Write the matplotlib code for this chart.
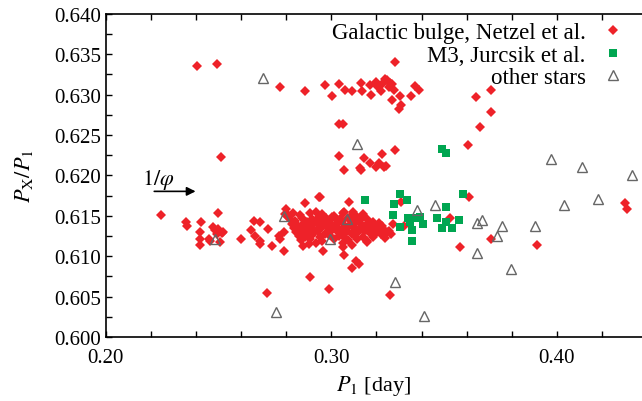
import matplotlib
matplotlib.use("Agg")
import matplotlib.pyplot as plt
from matplotlib.ticker import MultipleLocator, FormatStrFormatter

plt.rcParams['font.family'] = ['Liberation Serif', 'DejaVu Serif']
plt.rcParams['mathtext.fontset'] = 'stix'

# Galactic bulge, Netzel et al.
bulge_p1 = [
    # sparse points
    0.2403, 0.2492, 0.2511, 0.2773, 0.2881, 0.2973, 0.3003, 0.3033, 0.3059, 0.3092,
    0.3033, 0.3052, 0.3036, 0.3055, 0.3126, 0.2944, 0.3284, 0.3132, 0.3136, 0.3170,
    0.3176, 0.3196, 0.3204, 0.3218, 0.3225, 0.3240, 0.3247, 0.3255, 0.3262, 0.3270,
    0.3277, 0.3267, 0.3304, 0.3310, 0.3302, 0.3354, 0.3373, 0.3388, 0.3147, 0.3132,
    0.3170, 0.3196, 0.3212, 0.3225, 0.3233, 0.3244, 0.3284, 0.3707, 0.3640, 0.3710,
    0.3658, 0.3607, 0.3610, 0.4302, 0.4311, 0.3307, 0.3526, 0.3215, 0.3321, 0.3569,
    0.3707, 0.3258, 0.3911, 0.2988, 0.2904, 0.3092, 0.3111, 0.3121, 0.3058, 0.2948,
    0.3077, 0.3097, 0.3055, 0.2881, 0.2874, 0.2962, 0.3050, 0.2244, 0.2356, 0.2358,
    0.2421, 0.2418, 0.2418, 0.2418, 0.2455, 0.2460, 0.2495, 0.2477, 0.2484, 0.2499,
    0.2492, 0.2514, 0.2521, 0.2506, 0.2599, 0.2655, 0.2684, 0.2644, 0.2662, 0.2684,
    0.2684, 0.2717, 0.2736, 0.2769, 0.2773, 0.2791, 0.2800, 0.2796, 0.2805, 0.2788,
    0.2714, 0.3274, 0.3160, 0.3185,
    # dense group
    0.2805, 0.2830, 0.2860, 0.2905, 0.2930, 0.2960, 0.3010, 0.3050, 0.3100, 0.3115,
    0.3140, 0.2815, 0.2840, 0.2870, 0.2890, 0.2915, 0.2945, 0.2975, 0.2990, 0.3020,
    0.3045, 0.3075, 0.3095, 0.3125, 0.3160, 0.3185, 0.3210, 0.2825, 0.2850, 0.2880,
    0.2900, 0.2925, 0.2950, 0.2965, 0.2985, 0.3005, 0.3030, 0.3060, 0.3085, 0.3110,
    0.3135, 0.3150, 0.3175, 0.3200, 0.3225, 0.2835, 0.2860, 0.2875, 0.2895, 0.2910,
    0.2935, 0.2955, 0.2980, 0.3000, 0.3015, 0.3040, 0.3065, 0.3080, 0.3105, 0.3130,
    0.3155, 0.3180, 0.3205, 0.3230, 0.3255, 0.2845, 0.2870, 0.2890, 0.2920, 0.2940,
    0.2970, 0.2995, 0.3025, 0.3050, 0.3070, 0.3090, 0.3120, 0.3145, 0.3170, 0.3195,
    0.3220, 0.3245, 0.3265, 0.2855, 0.2885, 0.2915, 0.2950, 0.2990, 0.3035, 0.3060,
    0.3100, 0.3140, 0.3190, 0.3240, 0.2865, 0.2905, 0.2960, 0.3010, 0.3075, 0.3115,
    0.3160, 0.2900, 0.2930, 0.3050, 0.3090, 0.2945, 0.3002, 0.3038, 0.3082, 0.3128,
]
bulge_ratio = [
    0.6336, 0.6338, 0.6223, 0.6310, 0.6304, 0.6312, 0.6298, 0.6313, 0.6306, 0.6305,
    0.6264, 0.6264, 0.6224, 0.6207, 0.6209, 0.6173, 0.6340, 0.6314, 0.6305, 0.6312,
    0.6300, 0.6316, 0.6311, 0.6305, 0.6313, 0.6320, 0.6318, 0.6309, 0.6314, 0.6313,
    0.6306, 0.6293, 0.6298, 0.6287, 0.6282, 0.6298, 0.6311, 0.6306, 0.6222, 0.6207,
    0.6215, 0.6210, 0.6216, 0.6226, 0.6210, 0.6212, 0.6232, 0.6306, 0.6297, 0.6278,
    0.6260, 0.6238, 0.6173, 0.6166, 0.6158, 0.6167, 0.6147, 0.6139, 0.6138, 0.6112,
    0.6122, 0.6052, 0.6114, 0.6059, 0.6074, 0.6086, 0.6094, 0.6090, 0.6102, 0.6173,
    0.6167, 0.6155, 0.6155, 0.6166, 0.6113, 0.6107, 0.6112, 0.6151, 0.6143, 0.6138,
    0.6143, 0.6130, 0.6122, 0.6114, 0.6122, 0.6119, 0.6154, 0.6136, 0.6132, 0.6134,
    0.6127, 0.6129, 0.6130, 0.6118, 0.6122, 0.6144, 0.6142, 0.6132, 0.6125, 0.6119,
    0.6115, 0.6134, 0.6113, 0.6125, 0.6121, 0.6106, 0.6159, 0.6152, 0.6150, 0.6130,
    0.6054, 0.6140, 0.6118, 0.6124,
    # dense group
    0.6152, 0.6154, 0.6151, 0.6153, 0.6155, 0.6152, 0.6150, 0.6153, 0.6151, 0.6149,
    0.6152, 0.6146, 0.6144, 0.6147, 0.6143, 0.6146, 0.6145, 0.6147, 0.6143, 0.6146,
    0.6144, 0.6147, 0.6143, 0.6145, 0.6146, 0.6143, 0.6141, 0.6140, 0.6138, 0.6141,
    0.6139, 0.6141, 0.6138, 0.6140, 0.6142, 0.6139, 0.6141, 0.6138, 0.6140, 0.6142,
    0.6139, 0.6137, 0.6140, 0.6136, 0.6138, 0.6135, 0.6133, 0.6136, 0.6134, 0.6136,
    0.6133, 0.6135, 0.6136, 0.6134, 0.6136, 0.6133, 0.6135, 0.6137, 0.6134, 0.6136,
    0.6133, 0.6135, 0.6132, 0.6134, 0.6131, 0.6130, 0.6128, 0.6131, 0.6129, 0.6131,
    0.6128, 0.6130, 0.6131, 0.6129, 0.6131, 0.6128, 0.6130, 0.6131, 0.6129, 0.6130,
    0.6128, 0.6130, 0.6127, 0.6125, 0.6124, 0.6126, 0.6124, 0.6126, 0.6125, 0.6123,
    0.6126, 0.6124, 0.6126, 0.6123, 0.6120, 0.6121, 0.6119, 0.6121, 0.6120, 0.6122,
    0.6119, 0.6115, 0.6116, 0.6117, 0.6114, 0.6148, 0.6149, 0.6146, 0.6148, 0.6147,
]

# M3, Jurcsik et al.
m3_p1 = [0.3492, 0.3510, 0.3148, 0.3304, 0.3336, 0.3277, 0.3274, 0.3304, 0.3339, 0.3359,
         0.3359, 0.3391, 0.3406, 0.3507, 0.3470, 0.3492, 0.3510, 0.3536, 0.3566, 0.3584,
         0.3375, 0.3349]
m3_ratio = [0.6233, 0.6228, 0.6170, 0.6177, 0.6170, 0.6165, 0.6151, 0.6136, 0.6147, 0.6133,
            0.6119, 0.6148, 0.6140, 0.6161, 0.6147, 0.6135, 0.6142, 0.6135, 0.6145, 0.6177,
            0.6147, 0.6142]

# other stars
other_p1 = [0.2696, 0.3114, 0.3973, 0.4111, 0.4333, 0.4032, 0.4185, 0.3378, 0.3458, 0.3644,
            0.3670, 0.3759, 0.3736, 0.3644, 0.3799, 0.3904, 0.3284, 0.3410, 0.2484, 0.2791,
            0.2756, 0.2996, 0.3070]
other_ratio = [0.6321, 0.6239, 0.6220, 0.6211, 0.6200, 0.6164, 0.6171, 0.6157, 0.6163, 0.6141,
               0.6145, 0.6138, 0.6125, 0.6104, 0.6084, 0.6138, 0.6068, 0.6026, 0.6122, 0.6150,
               0.6031, 0.6121, 0.6146]

golden = 0.618034

fig = plt.figure(figsize=(6.42, 4.02), dpi=100)
ax = fig.add_axes([0.165, 0.159, 0.835, 0.804])

ax.plot(bulge_p1, bulge_ratio, 'D', color='#ee2229', ms=4.8, mew=0, label='Galactic bulge, Netzel et al.')
ax.plot(m3_p1, m3_ratio, 's', color='#00a651', ms=6.4, mew=0, label='M3, Jurcsik et al.')
ax.plot(other_p1, other_ratio, '^', mfc='none', mec='#666666', ms=6.5, mew=1.0, label='other stars')

# arrow at the golden ratio value
ax.annotate('', xy=(0.2410, golden), xytext=(0.2202, golden),
            arrowprops=dict(arrowstyle='-|>', color='black', lw=1.2, mutation_scale=13))
ax.text(0.2158, 0.6190, r'$1/\varphi$', fontsize=16)

ax.set_xlim(0.2, 0.4378)
ax.set_ylim(0.600, 0.640)
ax.xaxis.set_major_locator(MultipleLocator(0.1))
ax.xaxis.set_minor_locator(MultipleLocator(0.02))
ax.yaxis.set_major_locator(MultipleLocator(0.005))
ax.yaxis.set_minor_locator(MultipleLocator(0.0025))
ax.xaxis.set_major_formatter(FormatStrFormatter('%.2f'))
ax.yaxis.set_major_formatter(FormatStrFormatter('%.3f'))
ax.tick_params(which='both', direction='in', top=True, right=False, length=4, width=1,
               labelsize=15)
ax.tick_params(axis='x', pad=8)
ax.spines['right'].set_visible(False)
for s in ['left', 'bottom', 'top']:
    ax.spines[s].set_linewidth(1.2)

ax.set_xlabel(r'$P_1$ [day]', fontsize=16, labelpad=4)
ax.set_ylabel(r'$P_{\mathrm{X}}/P_1$', fontsize=16, labelpad=14)

ax.legend(loc='upper right', bbox_to_anchor=(0.985, 1.003), markerfirst=False, frameon=False,
          fontsize=16.5, handlelength=1.0, handletextpad=0.7, labelspacing=0.07,
          borderaxespad=0.0)

fig.savefig('out.png', dpi=100)
